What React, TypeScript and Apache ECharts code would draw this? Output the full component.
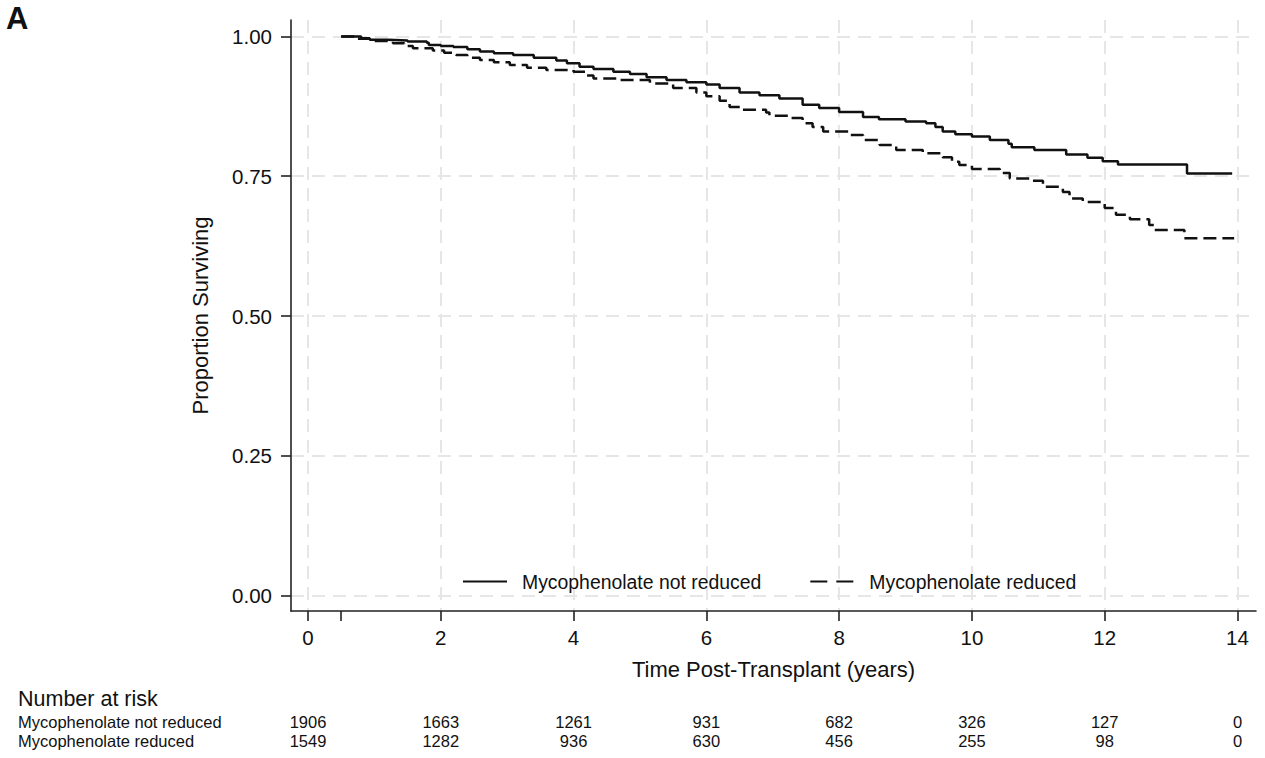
import React, { useEffect, useRef } from "react";
import * as echarts from "echarts";

const FONT = "'Liberation Sans', Arial, Helvetica, sans-serif";

// Kaplan-Meier step points (time in years, proportion surviving)
const notReducedTime = [0.5, 0.8, 0.93, 1.2, 1.5, 1.79, 1.82, 2.0, 2.19, 2.4, 2.59, 2.8, 3.09, 3.4, 3.74, 3.9, 4.09, 4.3, 4.6, 4.85, 5.1, 5.4, 5.7, 6.0, 6.2, 6.5, 6.8, 7.1, 7.45, 7.7, 8.0, 8.36, 8.6, 9.0, 9.31, 9.45, 9.56, 9.75, 10.0, 10.27, 10.55, 10.6, 10.94, 11.42, 11.74, 11.97, 12.2, 13.24, 13.92];
const notReducedSurv = [1.0, 0.997, 0.994, 0.993, 0.991, 0.989, 0.985, 0.983, 0.981, 0.977, 0.973, 0.97, 0.967, 0.962, 0.957, 0.952, 0.946, 0.942, 0.937, 0.933, 0.927, 0.922, 0.918, 0.914, 0.908, 0.9, 0.895, 0.889, 0.878, 0.872, 0.865, 0.856, 0.852, 0.848, 0.845, 0.838, 0.83, 0.825, 0.821, 0.815, 0.808, 0.802, 0.797, 0.789, 0.783, 0.777, 0.771, 0.755, 0.755];

const reducedTime = [0.5, 0.7, 0.93, 1.28, 1.45, 1.58, 1.88, 2.05, 2.23, 2.4, 2.59, 2.8, 3.04, 3.3, 3.59, 4.0, 4.2, 4.3, 4.7, 5.15, 5.5, 5.85, 6.0, 6.2, 6.35, 6.55, 6.9, 6.95, 7.25, 7.45, 7.6, 7.76, 8.16, 8.36, 8.61, 8.86, 9.26, 9.56, 9.7, 9.81, 10.0, 10.42, 10.57, 10.87, 11.07, 11.37, 11.47, 11.67, 12.0, 12.17, 12.38, 12.67, 12.74, 13.2, 13.95];
const reducedSurv = [1.0, 0.996, 0.992, 0.988, 0.983, 0.979, 0.975, 0.971, 0.967, 0.962, 0.958, 0.954, 0.949, 0.944, 0.94, 0.937, 0.93, 0.925, 0.922, 0.916, 0.908, 0.9, 0.893, 0.885, 0.874, 0.869, 0.864, 0.858, 0.854, 0.845, 0.838, 0.83, 0.824, 0.815, 0.806, 0.797, 0.791, 0.784, 0.776, 0.77, 0.763, 0.756, 0.746, 0.742, 0.731, 0.722, 0.71, 0.704, 0.693, 0.681, 0.673, 0.663, 0.654, 0.639, 0.639];

const seriesNames = ["Mycophenolate not reduced", "Mycophenolate reduced"];
const xTicks = [0, 2, 4, 6, 8, 10, 12, 14];
const xExtraTicks = [0.5];
const yTicks = [0, 0.25, 0.5, 0.75, 1];

const riskTimes = [0, 2, 4, 6, 8, 10, 12, 14];
const riskNotReduced = [1906, 1663, 1261, 931, 682, 326, 127, 0];
const riskReduced = [1549, 1282, 936, 630, 456, 255, 98, 0];

export default function App() {
  const ref = useRef<HTMLDivElement>(null);

  useEffect(() => {
    const chart = echarts.init(ref.current!, null, { renderer: "svg" });
    const axisLineStyle = { color: "#222", width: 1.6 };
    const gridLine = { show: true, lineStyle: { color: "#e6e6e6", width: 2, type: [13, 8] } };
    const tickLabelStyle = { fontSize: 20.5, color: "#111", fontFamily: FONT };
    const titleStyle = { fontSize: 22, color: "#111", fontFamily: FONT };

    chart.setOption({
      animation: false,
      backgroundColor: "#fff",
      grid: { left: 291, right: 9, top: 20, bottom: 147, containLabel: false },
      legend: {
        left: 457,
        top: 567,
        itemWidth: 44,
        itemHeight: 14,
        itemGap: 48,
        data: [
          { name: seriesNames[0] },
          { name: seriesNames[1], lineStyle: { type: [17, 9] } },
        ],
        itemStyle: { opacity: 0 },
        textStyle: { fontSize: 19.4, color: "#111", fontFamily: FONT, padding: [0, 0, 0, 10] },
      },
      xAxis: [
        {
          type: "value",
          min: -0.256,
          max: 14.279,
          position: "bottom",
          axisLine: { show: true, onZero: false, lineStyle: axisLineStyle },
          axisTick: { show: true, length: 10, customValues: xTicks, lineStyle: axisLineStyle },
          axisLabel: { customValues: xTicks, margin: 16, ...tickLabelStyle },
          splitLine: gridLine,
          name: "Time Post-Transplant (years)",
          nameLocation: "middle",
          nameGap: 47,
          nameTextStyle: titleStyle,
        },
        {
          type: "value",
          min: -0.256,
          max: 14.279,
          position: "bottom",
          axisLine: { show: false, onZero: false },
          axisTick: { show: true, length: 10, customValues: xExtraTicks, lineStyle: axisLineStyle },
          axisLabel: { show: false },
          splitLine: { show: false },
        },
      ],
      yAxis: {
        type: "value",
        min: -0.0277,
        max: 1.0295,
        axisLine: { show: true, onZero: false, lineStyle: axisLineStyle },
        axisTick: { show: true, length: 10, customValues: yTicks, lineStyle: axisLineStyle },
        axisLabel: { customValues: yTicks, margin: 19, formatter: (v: number) => v.toFixed(2), ...tickLabelStyle },
        splitLine: gridLine,
        name: "Proportion Surviving",
        nameLocation: "middle",
        nameGap: 80,
        nameTextStyle: titleStyle,
      },
      series: [
        {
          name: seriesNames[0],
          type: "line",
          step: "end",
          symbol: "none",
          silent: true,
          data: notReducedTime.map((t, i) => [t, notReducedSurv[i]]),
          lineStyle: { color: "#111", width: 2.5, type: "solid" },
          itemStyle: { color: "#111" },
        },
        {
          name: seriesNames[1],
          type: "line",
          step: "end",
          symbol: "none",
          silent: true,
          data: reducedTime.map((t, i) => [t, reducedSurv[i]]),
          lineStyle: { color: "#111", width: 2.5, type: [13, 6] },
          itemStyle: { color: "#111" },
        },
      ],
    });

    const graphics: any[] = [
      {
        type: "text",
        left: 6,
        top: 3,
        style: { text: "A", fontSize: 31, fontWeight: "bold", fill: "#111", fontFamily: FONT },
      },
      {
        type: "text",
        x: 18,
        y: 698.5,
        style: { text: "Number at risk", fontSize: 21.5, fill: "#111", fontFamily: FONT, verticalAlign: "middle", align: "left" },
      },
      {
        type: "text",
        x: 18,
        y: 722.3,
        style: { text: seriesNames[0], fontSize: 16.5, fill: "#111", fontFamily: FONT, verticalAlign: "middle", align: "left" },
      },
      {
        type: "text",
        x: 18,
        y: 741.3,
        style: { text: seriesNames[1], fontSize: 16.5, fill: "#111", fontFamily: FONT, verticalAlign: "middle", align: "left" },
      },
    ];
    riskTimes.forEach((t, i) => {
      const px = chart.convertToPixel({ xAxisIndex: 0 }, t) as number;
      graphics.push({
        type: "text",
        x: px,
        y: 722.3,
        style: { text: String(riskNotReduced[i]), fontSize: 16.5, fill: "#111", fontFamily: FONT, verticalAlign: "middle", align: "center" },
      });
      graphics.push({
        type: "text",
        x: px,
        y: 741.3,
        style: { text: String(riskReduced[i]), fontSize: 16.5, fill: "#111", fontFamily: FONT, verticalAlign: "middle", align: "center" },
      });
    });
    chart.setOption({ graphic: graphics });

    return () => chart.dispose();
  }, []);

  return (
    <div
      ref={ref}
      style={{ position: "absolute", left: 0, top: 0, width: 1265, height: 758, background: "#fff" }}
    />
  );
}
